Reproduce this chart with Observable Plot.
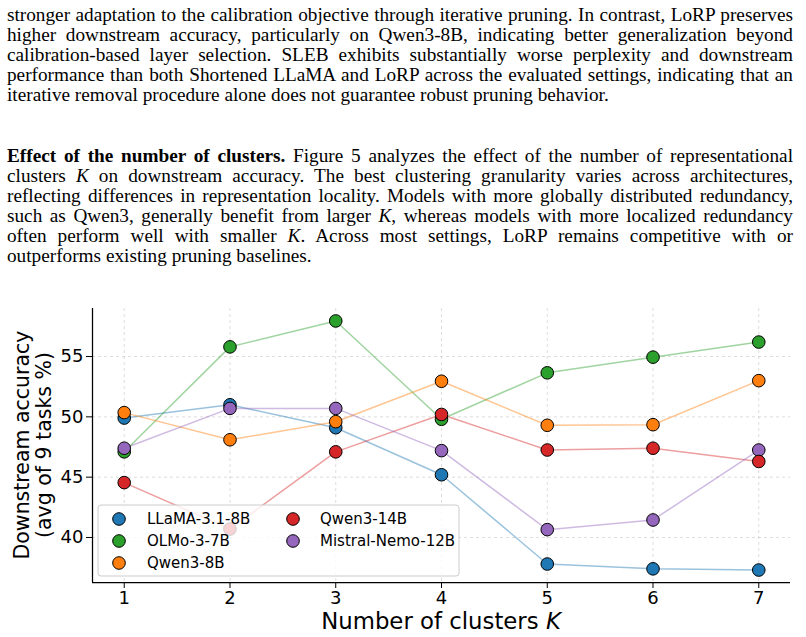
<!DOCTYPE html>
<html>
<head>
<meta charset="utf-8">
<script src="https://cdn.jsdelivr.net/npm/d3@7"></script>
<script src="https://cdn.jsdelivr.net/npm/@observablehq/plot@0.6"></script>
<style>
  html, body { margin: 0; padding: 0; background: #fff; }
  body { width: 806px; height: 637px; position: relative; overflow: hidden; }
  .para { position: absolute; left: 7px; font-family: "Liberation Serif", "Times New Roman", serif; font-size: 18.5px; line-height: 20px; color: #000; transform-origin: 0 0; }
  .line { display: block; white-space: nowrap; }
  .line span.inner { white-space: nowrap; }
  #chart { position: absolute; left: 0; top: 290px; }
</style>
</head>
<body>
<div class="para" id="p1" style="top:4.5px"></div>
<div class="para" id="p2" style="top:145.8px"></div>
<div id="chart"></div>
<script>
// ---------- text ----------
const para1 = [
  "stronger adaptation to the calibration objective through iterative pruning. In contrast, LoRP preserves",
  "higher downstream accuracy, particularly on Qwen3-8B, indicating better generalization beyond",
  "calibration-based layer selection.  SLEB exhibits substantially worse perplexity and downstream",
  "performance than both Shortened LLaMA and LoRP across the evaluated settings, indicating that an",
  "iterative removal procedure alone does not guarantee robust pruning behavior."
];
const para2 = [
  "<b>Effect of the number of clusters.</b> Figure 5 analyzes the effect of the number of representational",
  "clusters <i>K</i> on downstream accuracy.  The best clustering granularity varies across architectures,",
  "reflecting differences in representation locality. Models with more globally distributed redundancy,",
  "such as Qwen3, generally benefit from larger <i>K</i>, whereas models with more localized redundancy",
  "often perform well with smaller <i>K</i>.  Across most settings, LoRP remains competitive with or",
  "outperforms existing pruning baselines."
];

function measure(html) {
  const s = document.createElement("span");
  s.style.cssText = "position:absolute;visibility:hidden;white-space:nowrap;font-family:'Liberation Serif',serif;font-size:18.5px";
  s.innerHTML = html.replace(/  /g, " ");
  document.body.appendChild(s);
  const w = s.getBoundingClientRect().width;
  const n = (s.textContent.match(/ /g) || []).length;
  s.remove();
  return {w, n};
}
// horizontal stretch: last line of paragraph 1 spans ~627px, but every justified line must still fit
let stretch = 627 / measure(para1[para1.length - 1]).w;
[...para1.slice(0, -1), ...para2.slice(0, -1)].forEach(h => {
  const m = measure(h);
  stretch = Math.min(stretch, 786 / (m.w + m.n * 0.6));
});

function fillPara(id, lines) {
  const host = document.getElementById(id);
  const W = 786 / stretch;
  host.style.width = W + "px";
  host.style.transform = `scaleX(${stretch})`;
  lines.forEach((html, i) => {
    const div = document.createElement("div");
    div.className = "line";
    const span = document.createElement("span");
    span.className = "inner";
    span.innerHTML = html.replace(/  /g, " ");
    div.appendChild(span);
    host.appendChild(div);
    if (i < lines.length - 1) {
      const natural = span.getBoundingClientRect().width / stretch;
      const nSpaces = (span.textContent.match(/ /g) || []).length;
      if (nSpaces > 0) span.style.wordSpacing = ((W - natural) / nSpaces) + "px";
    }
  });
}
fillPara("p1", para1);
fillPara("p2", para2);

// ---------- data ----------
const kValues = [1, 2, 3, 4, 5, 6, 7];
const models = ["LLaMA-3.1-8B", "OLMo-3-7B", "Qwen3-8B", "Qwen3-14B", "Mistral-Nemo-12B"];
const colors = ["#1f77b4", "#2ca02c", "#ff7f0e", "#d62728", "#9467bd"];
const llama   = [49.9, 51.0, 49.1, 45.2, 37.8, 37.4, 37.3];
const olmo    = [47.1, 55.8, 57.95, 49.8, 53.65, 54.95, 56.2];
const qwen8   = [50.35, 48.1, 49.6, 52.95, 49.3, 49.35, 53.0];
const qwen14  = [44.55, 40.7, 47.1, 50.2, 47.25, 47.4, 46.3];
const mistral = [47.4, 50.7, 50.7, 47.2, 40.65, 41.45, 47.25];
const yTicks = [40, 45, 50, 55];
const seriesValues = [llama, olmo, qwen8, qwen14, mistral];
const dotOrder = [0, 1, 2, 4, 3];

const rows = [];
seriesValues.forEach((vals, s) => vals.forEach((v, i) => rows.push({model: models[s], k: kValues[i], v})));

// matplotlib-like 5% margins
const allV = rows.map(d => d.v);
const vMin = d3.min(allV), vMax = d3.max(allV);
const yPad = (vMax - vMin) * 0.05;
const yDomain = [vMin - yPad, vMax + yPad];
const xPad = (d3.max(kValues) - d3.min(kValues)) * 0.05;
const xDomain = [d3.min(kValues) - xPad, d3.max(kValues) + xPad];

const gridStyle = {stroke: "#b0b0b0", strokeOpacity: 0.55, strokeDasharray: "3,3", strokeWidth: 0.8};

const marks = [
  Plot.gridX(kValues, gridStyle),
  Plot.gridY(yTicks, gridStyle),
  Plot.line(rows, {x: "k", y: "v", z: "model", stroke: "model", strokeOpacity: 0.45, strokeWidth: 1.5}),
  ...dotOrder.map(s => Plot.dot(rows.filter(d => d.model === models[s]),
      {x: "k", y: "v", fill: "model", stroke: "#000", strokeWidth: 1, r: 6.3, fillOpacity: 1})),
  Plot.ruleX([xDomain[0]], {stroke: "#000", strokeWidth: 1.25}),
  Plot.ruleY([yDomain[0]], {stroke: "#000", strokeWidth: 1.25}),
  Plot.axisX(kValues, {tickSize: 6, tickPadding: 3, label: null, fontSize: 18, tickFormat: d => String(d), stroke: "#000"}),
  Plot.axisY(yTicks, {tickSize: 6, tickPadding: 3, label: null, fontSize: 18, tickFormat: d => String(d), stroke: "#000"})
];

const chart = Plot.plot({
  width: 806,
  height: 347,
  marginLeft: 92,
  marginRight: 16,
  marginTop: 18,
  marginBottom: 55,
  x: {domain: xDomain},
  y: {domain: yDomain},
  color: {domain: models, range: colors},
  style: {fontFamily: "'DejaVu Sans', sans-serif", color: "#000", background: "transparent", overflow: "visible"},
  marks
});
document.getElementById("chart").appendChild(chart);

// ---------- axis labels & legend ----------
const svg = d3.select(chart);
const xs = chart.scale("x"), ys = chart.scale("y");
const xMid = (xs.range[0] + xs.range[1]) / 2;
const yMid = (ys.range[0] + ys.range[1]) / 2;

const xl = svg.append("text")
  .attr("x", xMid).attr("y", 339)
  .attr("text-anchor", "middle")
  .attr("font-family", "DejaVu Sans").attr("font-size", 22.8).attr("fill", "#000");
xl.append("tspan").text("Number of clusters ");
xl.append("tspan").attr("font-style", "italic").text("K");

const yLabelLines = ["Downstream accuracy", "(avg of 9 tasks %)"];
const yLabelBase = [29, 51];
yLabelLines.forEach((t, i) => {
  svg.append("text")
    .attr("transform", `translate(${yLabelBase[i]},${yMid}) rotate(-90)`)
    .attr("text-anchor", "middle")
    .attr("font-family", "DejaVu Sans").attr("font-size", 20.5).attr("fill", "#000")
    .text(t);
});

const lg = svg.append("g").attr("text-anchor", "start");
lg.append("rect").attr("x", 98).attr("y", 215).attr("width", 361).attr("height", 71)
  .attr("rx", 3).attr("fill", "#fff").attr("fill-opacity", 0.8).attr("stroke", "#cccccc").attr("stroke-width", 1);
const legCols = [[0, 1, 2], [3, 4]];
const colMarkX = [119, 293], colTextX = [147, 320];
const rowY = [229, 251, 273];
legCols.forEach((col, c) => col.forEach((s, r) => {
  lg.append("circle").attr("cx", colMarkX[c]).attr("cy", rowY[r]).attr("r", 6.3)
    .attr("fill", colors[s]).attr("stroke", "#000").attr("stroke-width", 1);
  lg.append("text").attr("x", colTextX[c]).attr("y", rowY[r]).attr("dy", "0.35em")
    .attr("text-anchor", "start")
    .attr("font-family", "DejaVu Sans").attr("font-size", 15).attr("fill", "#000")
    .text(models[s]);
}));
</script>
</body>
</html>
